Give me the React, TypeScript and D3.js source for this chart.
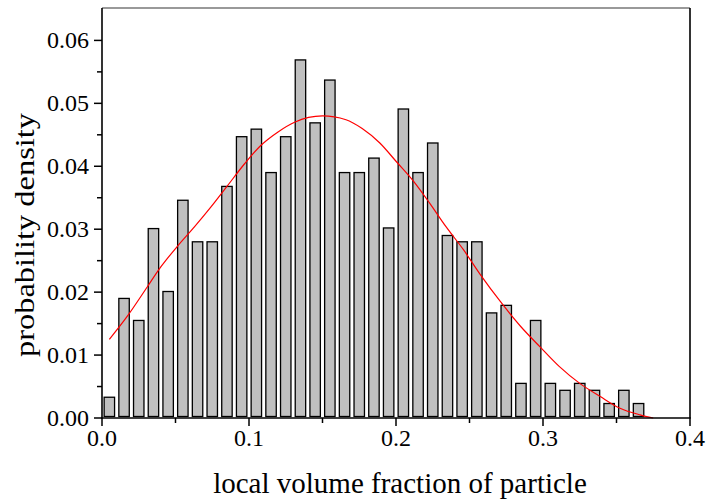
import React from "react";
import * as d3 from "d3";

// Histogram bins (centers) and probability densities
const binCenters = [
  0.005, 0.015, 0.025, 0.035, 0.045, 0.055, 0.065, 0.075, 0.085, 0.095,
  0.105, 0.115, 0.125, 0.135, 0.145, 0.155, 0.165, 0.175, 0.185, 0.195,
  0.205, 0.215, 0.225, 0.235, 0.245, 0.255, 0.265, 0.275, 0.285, 0.295,
  0.305, 0.315, 0.325, 0.335, 0.345, 0.355, 0.365,
];
const densities = [
  0.0033, 0.0190, 0.0155, 0.0301, 0.0201, 0.0346, 0.0280, 0.0280, 0.0368, 0.0447,
  0.0459, 0.0390, 0.0447, 0.0569, 0.0469, 0.0537, 0.0390, 0.0390, 0.0413, 0.0302,
  0.0491, 0.0390, 0.0437, 0.0290, 0.0280, 0.0280, 0.0167, 0.0179, 0.0055, 0.0155,
  0.0055, 0.0044, 0.0055, 0.0044, 0.0023, 0.0044, 0.0023,
];

// Fitted curve
const fitX = [
  0.005, 0.017, 0.031, 0.040, 0.051, 0.063, 0.074, 0.085, 0.097, 0.108,
  0.120, 0.131, 0.150, 0.166, 0.177, 0.189, 0.200, 0.212, 0.223, 0.234,
  0.246, 0.257, 0.272, 0.285, 0.298, 0.311, 0.325, 0.339, 0.352, 0.366, 0.375,
];
const fitY = [
  0.0125, 0.0161, 0.0209, 0.0240, 0.0272, 0.0304, 0.0335, 0.0368, 0.0404, 0.0433,
  0.0455, 0.0470, 0.0480, 0.0474, 0.0460, 0.0437, 0.0408, 0.0376, 0.0341, 0.0304,
  0.0267, 0.0229, 0.0182, 0.0145, 0.0113, 0.0082, 0.0055, 0.0034, 0.0016, 0.0005, 0.0,
];

const xMajor = [0, 0.1, 0.2, 0.3, 0.4];
const xMinor = [0.05, 0.15, 0.25, 0.35];
const yMajor = [0, 0.01, 0.02, 0.03, 0.04, 0.05, 0.06];
const yMinor = [0.005, 0.015, 0.025, 0.035, 0.045, 0.055];

const xTitle = "local volume fraction of particle";
const yTitle = "probability density";

const W = 716;
const H = 502;
const left = 102;
const right = 690;
const top = 8;
const bottom = 418;
const binWidth = 0.0071;
const font = "'Liberation Serif', 'Times New Roman', serif";

export default function App() {
  const x = d3.scaleLinear().domain([0, 0.4]).range([left, right]);
  const y = d3.scaleLinear().domain([0, 0.06515]).range([bottom, top]);

  const line = d3
    .line<number>()
    .x((_, i) => x(fitX[i]))
    .y((d) => y(d))
    .curve(d3.curveMonotoneX);

  const barBase = y(0) - 1.5;

  return (
    <svg
      width={W}
      height={H}
      style={{ position: "absolute", left: 0, top: 0, background: "#fff" }}
    >
      <rect x={0} y={0} width={W} height={H} fill="#fff" />
      {binCenters.map((c, i) => {
        const x0 = x(c - binWidth / 2);
        const x1 = x(c + binWidth / 2);
        const yt = y(densities[i]);
        return (
          <rect
            key={i}
            x={x0}
            y={yt}
            width={x1 - x0}
            height={Math.max(0, barBase - yt)}
            fill="#c0c0c0"
            stroke="#000"
            strokeWidth={1.3}
          />
        );
      })}
      <path d={line(fitY) || ""} fill="none" stroke="#ff0000" strokeWidth={1.2} />

      {/* frame */}
      <line x1={left} x2={right} y1={top} y2={top} stroke="#777" strokeWidth={1.6} />
      <line x1={right} x2={right} y1={top} y2={bottom} stroke="#000" strokeWidth={1.6} />
      <line x1={left} x2={left} y1={top} y2={bottom + 0.8} stroke="#000" strokeWidth={1.6} />
      <line x1={left - 0.8} x2={right + 0.8} y1={bottom} y2={bottom} stroke="#000" strokeWidth={1.6} />

      {/* x ticks */}
      {xMajor.map((t) => (
        <g key={"xM" + t}>
          <line x1={x(t)} x2={x(t)} y1={bottom} y2={bottom + 8} stroke="#000" strokeWidth={1.5} />
          <text
            x={x(t)}
            y={bottom + 28}
            textAnchor="middle"
            fontFamily={font}
            fontSize={24}
            fill="#000"
          >
            {d3.format(".1f")(t)}
          </text>
        </g>
      ))}
      {xMinor.map((t) => (
        <line key={"xm" + t} x1={x(t)} x2={x(t)} y1={bottom} y2={bottom + 5} stroke="#000" strokeWidth={1.5} />
      ))}

      {/* y ticks */}
      {yMajor.map((t) => (
        <g key={"yM" + t}>
          <line x1={left - 8} x2={left} y1={y(t)} y2={y(t)} stroke="#000" strokeWidth={1.5} />
          <text
            x={left - 13}
            y={y(t) + 8}
            textAnchor="end"
            fontFamily={font}
            fontSize={24}
            fill="#000"
          >
            {d3.format(".2f")(t)}
          </text>
        </g>
      ))}
      {yMinor.map((t) => (
        <line key={"ym" + t} x1={left - 5} x2={left} y1={y(t)} y2={y(t)} stroke="#000" strokeWidth={1.5} />
      ))}

      {/* titles */}
      <text
        x={400}
        y={493}
        textAnchor="middle"
        fontFamily={font}
        fontSize={29}
        fill="#000"
      >
        {xTitle}
      </text>
      <text
        transform="translate(34,235) rotate(-90)"
        textAnchor="middle"
        fontFamily={font}
        fontSize={27}
        textLength={244}
        lengthAdjust="spacingAndGlyphs"
        fill="#000"
      >
        {yTitle}
      </text>
    </svg>
  );
}
